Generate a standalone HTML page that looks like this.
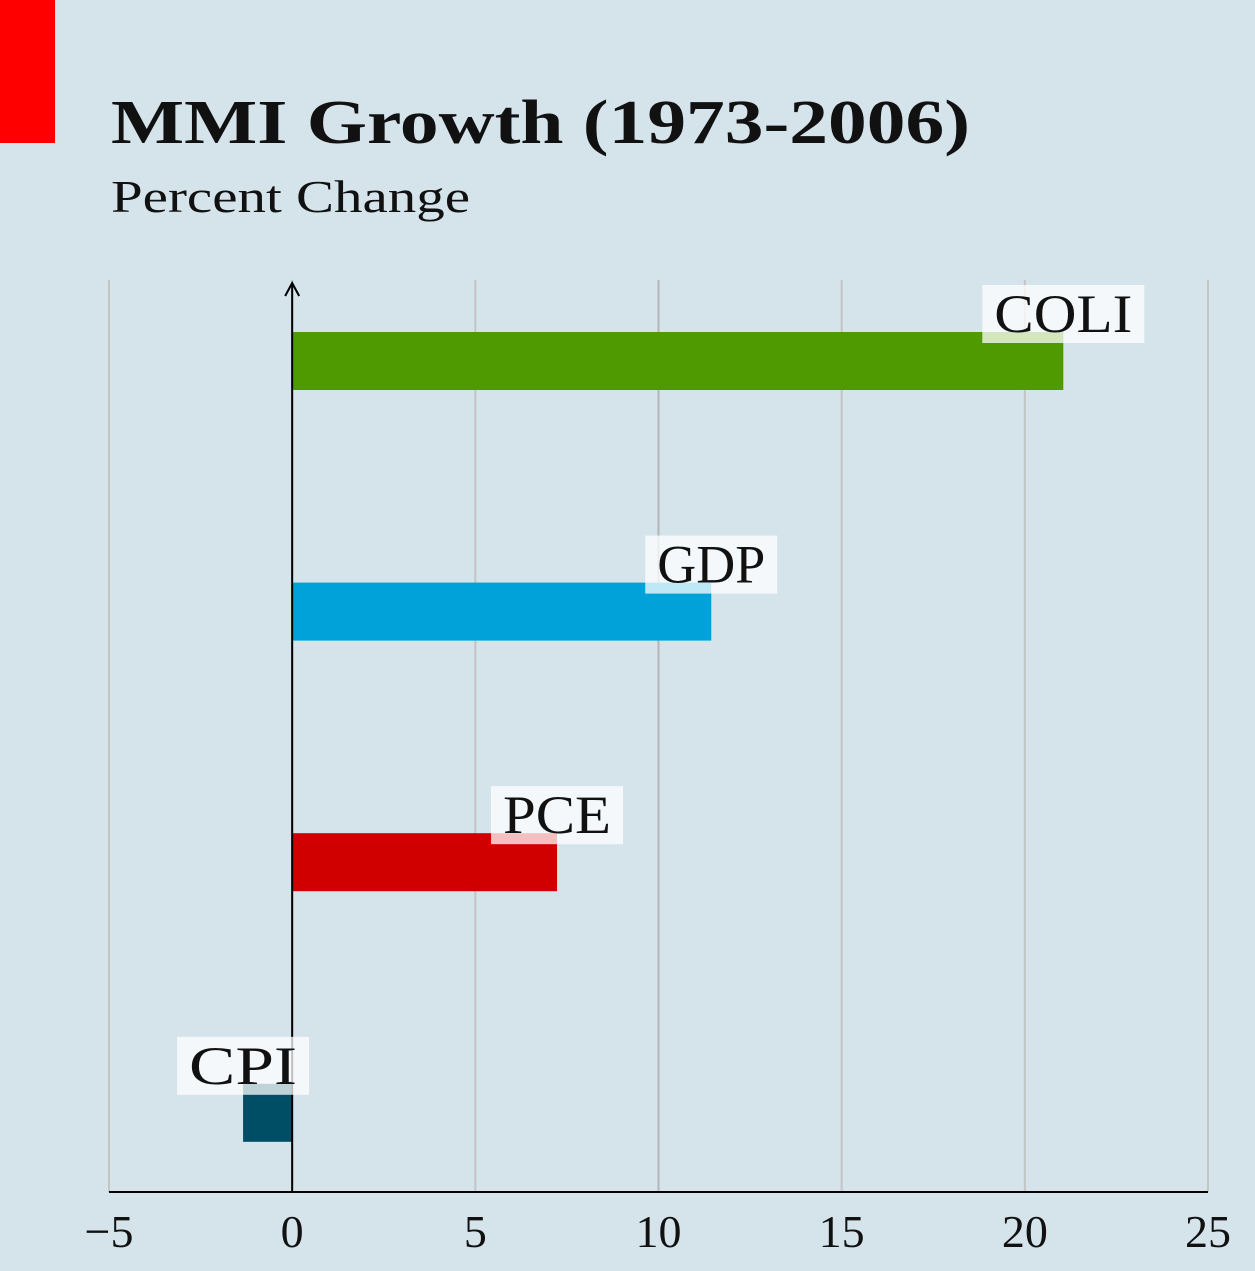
<!DOCTYPE html>
<html><head><meta charset="utf-8"><style>
html,body{margin:0;padding:0;background:#d5e3eb;}
svg{display:block;font-family:"Liberation Serif",serif;}
</style></head><body>
<svg id="c" width="1255" height="1271" xmlns="http://www.w3.org/2000/svg">
<rect x="0" y="0" width="1255" height="1271" fill="#d5e3eb"/>
<rect x="0" y="0" width="55" height="143" fill="#ff0000"/>
<text x="111" y="143" font-size="62" font-weight="bold" fill="#111" textLength="859" lengthAdjust="spacingAndGlyphs">MMI Growth (1973-2006)</text>
<text x="111" y="212" font-size="46" fill="#111" textLength="359" lengthAdjust="spacingAndGlyphs">Percent Change</text>
<g id="grid"></g><g id="bars"></g><g id="axes"></g><g id="labels"></g>
</svg>
<script>
const categories = ["COLI","GDP","PCE","CPI"];
const values = [21.05, 11.44, 7.23, -1.34];
const colors = ["#4f9a00","#00a3d9","#d10000","#004d66"];
const ticks = [-5,0,5,10,15,20,25];
const tickLabels = ["\u22125","0","5","10","15","20","25"];
const NS="http://www.w3.org/2000/svg";
const x0=109,x1=1208,yTop=280,yBot=1192;
function xs(v){return x0+(v+5)/30*(x1-x0);}
function yc(i){return 361+i*250.6;}
function mk(t,a,p){const e=document.createElementNS(NS,t);for(const k in a)e.setAttribute(k,a[k]);p.appendChild(e);return e;}
const grid=document.getElementById('grid'),bars=document.getElementById('bars'),axes=document.getElementById('axes'),labels=document.getElementById('labels');
ticks.forEach((t,i)=>{
  const l=mk('line',{x1:xs(t),x2:xs(t),y1:yTop,y2:yBot,stroke:t===10?'#b5b5b5':'#c4c4c4','stroke-width':2},grid);
  
  
  const tx=mk('text',{x:xs(t),y:1247,'font-size':46,'text-anchor':'middle',fill:'#111'},axes);
  tx.textContent=tickLabels[i];
  
  
});
categories.forEach((c,i)=>{
  const v=values[i],a=Math.min(xs(0),xs(v)),b=Math.max(xs(0),xs(v));
  const r=mk('rect',{x:a,y:yc(i)-29,width:b-a,height:58,fill:colors[i]},bars);
  
  
  const cx=xs(v), tw=c.length*30+18, w=tw+24;
  const bx=mk('rect',{x:cx-w/2,y:yc(i)-76,width:w,height:58,fill:'#ffffff','fill-opacity':0.75},labels);
  
  
  const t=mk('text',{x:cx-tw/2,y:yc(i)-29,'font-size':54,fill:'#111',textLength:tw,lengthAdjust:'spacingAndGlyphs'},labels);
  t.textContent=c;
  
  
});
const xa=mk('line',{x1:x0,x2:x1,y1:yBot,y2:yBot,stroke:'#000','stroke-width':2},axes);


const ya=mk('line',{x1:xs(0),x2:xs(0),y1:yBot,y2:284,stroke:'#000','stroke-width':2},axes);


const ar=mk('path',{d:`M${xs(0)-7} 296 L${xs(0)} 283 L${xs(0)+7} 296`,fill:'none',stroke:'#000','stroke-width':2},axes);


</script>
</body></html>
